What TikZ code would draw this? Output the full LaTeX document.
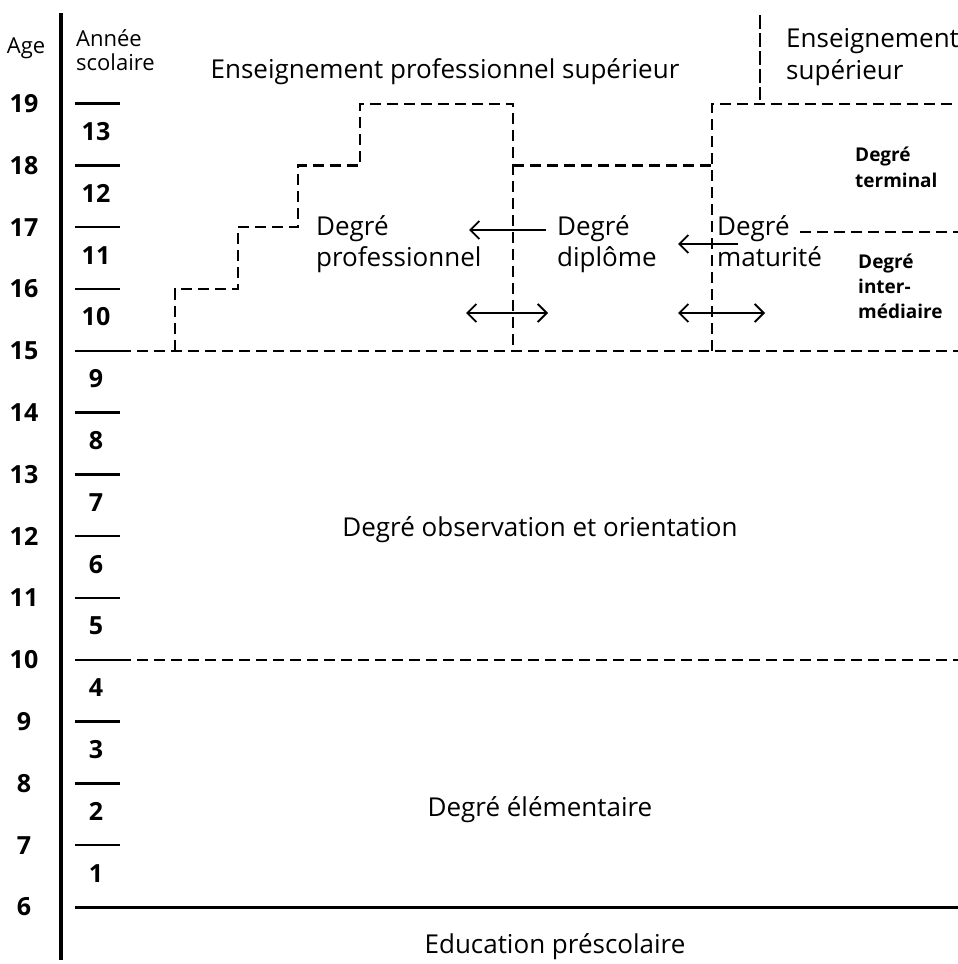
\documentclass[tikz,border=0pt]{standalone}
\usepackage{fontspec}
\setmainfont{Open Sans}
\usetikzlibrary{arrows.meta}
\begin{document}
\begin{tikzpicture}[x=1pt,y=-1pt,
  lbl/.style={font=\fontsize{26}{30}\selectfont, inner sep=0pt},
  hdr/.style={font=\fontsize{22}{26}\selectfont, inner sep=0pt},
  num/.style={font=\fontsize{25}{29}\selectfont\bfseries, inner sep=0pt},
  small/.style={font=\fontsize{19}{22}\selectfont\bfseries, inner sep=0pt},
  dsh/.style={line width=2.2pt, dash pattern=on 11pt off 6pt},
  tickline/.style={line width=2.4pt},
  arr/.style={line width=1.9pt, -{Straight Barb[length=9pt,width=18pt]}},
  darr/.style={line width=1.9pt, {Straight Barb[length=9pt,width=18pt]}-{Straight Barb[length=9pt,width=18pt]}}]
\useasboundingbox (0,0) rectangle (958,964);
% axis
\coordinate (axT) at (61,13);
\coordinate (axB) at (61,960);
\draw[line width=3.2pt] (axT) -- (axB);
% headers
\node[hdr] (age) at (26,48) {Age};
\node[hdr,anchor=base west] (annee) at (76,46) {Année};
\node[hdr,anchor=base west] (scol) at (76,70) {scolaire};
% ages and ticks
\foreach \a in {6,...,19}{
  \pgfmathsetmacro{\yy}{907-(\a-6)*61.8}
  \node[num] (age\a) at (24,\yy) {\a};
  \coordinate (tl\a) at (75,\yy);
  \coordinate (tr\a) at (120,\yy);
  \coordinate (te\a) at (958,\yy);
}
\foreach \a in {7,8,9,11,12,13,14,16,17,18,19}{
  \draw[tickline] (tl\a) -- (tr\a);
}
\draw[tickline] (tl15) -- (tr15);
\draw[dsh] (tr15) -- (te15);
\draw[tickline] (tl10) -- (tr10);
\draw[dsh] (tr10) -- (te10);
\draw[line width=3pt] (tl6) -- (te6);
% school years
\foreach \n in {1,...,13}{
  \pgfmathsetmacro{\yy}{907-(\n-0.5)*61.8-3}
  \node[num] (yr\n) at (96,\yy) {\n};
}
% staircase (Degré professionnel)
\coordinate (s0) at (175,350.8);
\coordinate (s1) at (175,289);
\coordinate (s2) at (238,289);
\coordinate (s3) at (238,227.2);
\coordinate (s4) at (298,227.2);
\coordinate (s5) at (298,165.4);
\coordinate (s6) at (360,165.4);
\coordinate (s7) at (360,103.6);
\coordinate (s8) at (513,103.6);
\coordinate (s9) at (513,350.8);
\draw[dsh] (s0) -- (s1) -- (s2) -- (s3) -- (s4) -- (s5) -- (s6) -- (s7) -- (s8) -- (s9);
% diplome / maturite
\coordinate (d1) at (513,165.4);
\coordinate (d2) at (712,165.4);
\coordinate (m0) at (712,350.8);
\coordinate (m1) at (712,103.6);
\coordinate (m2) at (958,103.6);
\draw[dsh] (d1) -- (d2);
\draw[dsh] (m0) -- (m1) -- (m2);
\coordinate (v1) at (760,15);
\coordinate (v2) at (760,100);
\draw[line width=2.8pt, dash pattern=on 14pt off 4pt] (v1) -- (v2);
\coordinate (t1) at (800,232);
\coordinate (t2) at (958,232);
\draw[dsh] (t1) -- (t2);
% arrows
\coordinate (a1s) at (546,230);
\coordinate (a1e) at (469,230);
\draw[arr] (a1s) -- (a1e);
\coordinate (a2s) at (738,244);
\coordinate (a2e) at (678,244);
\draw[arr] (a2s) -- (a2e);
\coordinate (b1s) at (466,313);
\coordinate (b1e) at (548,313);
\draw[darr] (b1s) -- (b1e);
\coordinate (b2s) at (678,313);
\coordinate (b2e) at (765,313);
\draw[darr] (b2s) -- (b2e);
% texts
\node[lbl,anchor=base] (eps) at (445,78) {Enseignement professionnel supérieur};
\node[lbl,anchor=base west] (es1) at (786,47) {Enseignement};
\node[lbl,anchor=base west] (es2) at (786,79) {supérieur};
\node[lbl,anchor=base west] (dp1) at (316,235) {Degré};
\node[lbl,anchor=base west] (dp2) at (316,266) {professionnel};
\node[lbl,anchor=base west] (dd1) at (557,235) {Degré};
\node[lbl,anchor=base west] (dd2) at (557,266) {diplôme};
\node[lbl,anchor=base west] (dm1) at (717,235) {Degré};
\node[lbl,anchor=base west] (dm2) at (717,266) {maturité};
\node[small,anchor=base west] (dt1) at (855,161) {Degré};
\node[small,anchor=base west] (dt2) at (855,187) {terminal};
\node[small,anchor=base west] (di1) at (858,268) {Degré};
\node[small,anchor=base west] (di2) at (858,293) {inter-};
\node[small,anchor=base west] (di3) at (858,318) {médiaire};
\node[lbl,anchor=base] (obs) at (540,536) {Degré observation et orientation};
\node[lbl,anchor=base] (elem) at (540,816) {Degré élémentaire};
\node[lbl,anchor=base] (pre) at (555,953) {Education préscolaire};
\end{tikzpicture}
\end{document}
